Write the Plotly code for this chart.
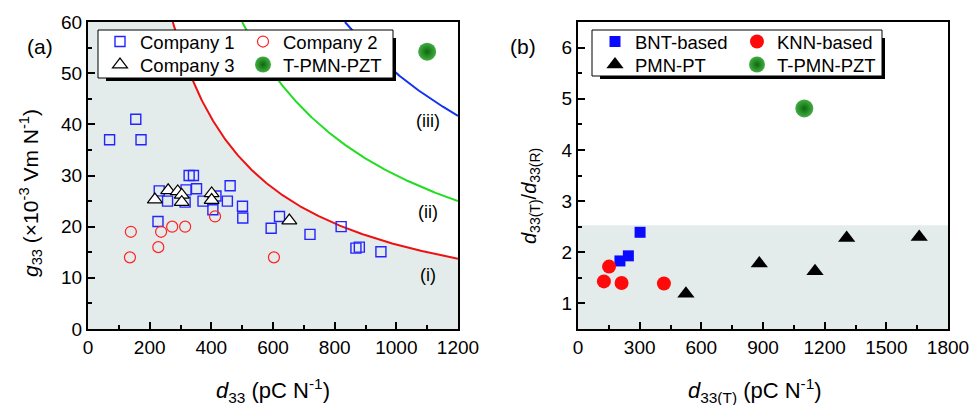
import numpy as np
import plotly.graph_objects as go

W, H = 973, 405
FONT = "Arial, Liberation Sans, sans-serif"

# ---------------- data: panel (a) ----------------
c1_x = [70, 155, 172, 328, 342, 231, 258, 318, 352, 315, 373, 415, 461, 452, 501, 502, 227, 405, 621, 594, 720, 821, 869, 880, 950]
c1_y = [37, 41, 37, 30, 30, 27, 25, 27.2, 27.4, 24.8, 25, 26, 28, 25, 24, 21.7, 21, 23.3, 22, 19.7, 18.5, 20, 15.8, 16, 15.1]
c2_x = [139, 136, 237, 228, 273, 315, 412, 603]
c2_y = [19, 14, 19, 16, 20, 20, 22, 14]
c3_x = [217, 260, 291, 304, 304, 401, 401, 653]
c3_y = [25.3, 27.1, 26.9, 26.2, 24.8, 26.5, 25.2, 21.2]
tp_a_x = [1100]
tp_a_y = [54.2]
fom_levels = [16500, 30000, 50000]      # d33*g33 iso-lines (i), (ii), (iii)
fom_labels = ["(i)", "(ii)", "(iii)"]
fom_label_y = [10.6, 22.9, 40.6]
fom_colors = ["#ee1111", "#22dd22", "#1133ee"]

# ---------------- data: panel (b) ----------------
bnt_x = [204, 245, 302]
bnt_y = [1.83, 1.93, 2.39]
knn_x = [126, 151, 212, 418]
knn_y = [1.43, 1.72, 1.40, 1.39]
pmn_x = [525, 882, 1153, 1307, 1660]
pmn_y = [1.19, 1.78, 1.63, 2.28, 2.30]
tp_b_x = [1101]
tp_b_y = [4.81]
shade_b_top = 2.53

GRAY = "#e4eceb"

fig = go.Figure()

def px2x(px):
    return px / W

def px2y(py):
    return 1 - py / H

# shaded region below curve (i)
xa_max = 1200
ya_max = 60
c = fom_levels[0]
xs = np.linspace(c / ya_max, xa_max, 200)
fill_x = [0, 0] + list(xs) + [xa_max, 0]
fill_y = [0, ya_max] + list(c / xs) + [0, 0]
fig.add_trace(go.Scatter(x=fill_x, y=fill_y, mode="lines", fill="toself",
                         fillcolor=GRAY, line=dict(width=0), showlegend=False,
                         hoverinfo="skip", xaxis="x", yaxis="y"))

for lev, col in zip(fom_levels, fom_colors):
    xx = np.linspace(lev / ya_max, xa_max, 300)
    fig.add_trace(go.Scatter(x=xx, y=lev / xx, mode="lines", line=dict(color=col, width=2),
                             showlegend=False, hoverinfo="skip", xaxis="x", yaxis="y"))

fig.add_trace(go.Scatter(x=c1_x, y=c1_y, mode="markers", name="Company 1",
                         marker=dict(symbol="square-open", size=10, color="#2424ff", line=dict(width=1.4)),
                         xaxis="x", yaxis="y", legend="legend"))
fig.add_trace(go.Scatter(x=c2_x, y=c2_y, mode="markers", name="Company 2",
                         marker=dict(symbol="circle-open", size=11, color="#ff2222", line=dict(width=1.2)),
                         xaxis="x", yaxis="y", legend="legend2"))
fig.add_trace(go.Scatter(x=c3_x, y=c3_y, mode="markers", name="Company 3",
                         marker=dict(symbol="triangle-up", size=13, color="white", line=dict(width=1.2, color="black")),
                         xaxis="x", yaxis="y", legend="legend3"))
sphere = dict(symbol="circle", size=18, color="#44ad44",
              gradient=dict(type="radial", color="#0a6a0a"), line=dict(width=0))
fig.add_trace(go.Scatter(x=tp_a_x, y=tp_a_y, mode="markers", name="T-PMN-PZT",
                         marker=sphere, xaxis="x", yaxis="y", legend="legend4"))

# panel (b)
fig.add_trace(go.Scatter(x=bnt_x, y=bnt_y, mode="markers", name="BNT-based",
                         marker=dict(symbol="square", size=11, color="#0a0aff"),
                         xaxis="x2", yaxis="y2", legend="legend5"))
fig.add_trace(go.Scatter(x=knn_x, y=knn_y, mode="markers", name="KNN-based",
                         marker=dict(symbol="circle", size=14, color="#ff0a0a"),
                         xaxis="x2", yaxis="y2", legend="legend6"))
fig.add_trace(go.Scatter(x=pmn_x, y=pmn_y, mode="markers", name="PMN-PT",
                         marker=dict(symbol="triangle-up", size=15, color="black"),
                         xaxis="x2", yaxis="y2", legend="legend7"))
fig.add_trace(go.Scatter(x=tp_b_x, y=tp_b_y, mode="markers", name="T-PMN-PZT",
                         marker=sphere, xaxis="x2", yaxis="y2", legend="legend8"))

# domains (plot areas in px)
ax_a = (88, 458)
ax_b = (578, 948)
ytop, ybot = 22, 329

common_axis = dict(showline=True, linewidth=2.2, linecolor="black", mirror=True,
                   ticks="inside", ticklen=7, tickwidth=1.6, tickcolor="black",
                   showgrid=False, zeroline=False, automargin=False,
                   tickfont=dict(family=FONT, size=19, color="black"))
minor = lambda d: dict(dtick=d, ticks="inside", ticklen=4, tickwidth=1.6, tickcolor="black", showgrid=False)

fig.update_layout(
    width=W, height=H, margin=dict(l=0, r=0, t=0, b=0, autoexpand=False),
    plot_bgcolor="white", paper_bgcolor="white",
    font=dict(family=FONT, color="black"),
    xaxis=dict(domain=[px2x(ax_a[0]), px2x(ax_a[1])], range=[0, 1200], dtick=200, tick0=0,
               minor=minor(100), anchor="y", **common_axis),
    yaxis=dict(domain=[px2y(ybot), px2y(ytop)], range=[0, 60], dtick=10, tick0=0,
               minor=minor(5), anchor="x", **common_axis),
    xaxis2=dict(domain=[px2x(ax_b[0]), px2x(ax_b[1])], range=[0, 1800], dtick=300, tick0=0,
                minor=minor(150), anchor="y2", **common_axis),
    yaxis2=dict(domain=[px2y(ybot), px2y(ytop)], range=[0.5, 6.5], dtick=1, tick0=0,
                minor=minor(0.5), anchor="x2", **common_axis),
)

# legends: each entry placed separately (two columns per panel)
leg_pos = {
    "legend": (120, 42), "legend2": (263, 42), "legend3": (120, 65), "legend4": (263, 65),
    "legend5": (615, 42), "legend6": (757, 42), "legend7": (615, 65), "legend8": (757, 65),
}
for key, (mx, my) in leg_pos.items():
    fig.update_layout({key: dict(x=px2x(mx - 20), y=px2y(my), xanchor="left", yanchor="middle",
                                 bgcolor="rgba(0,0,0,0)", borderwidth=0,
                                 font=dict(family=FONT, size=18.5, color="black"),
                                 itemwidth=30, tracegroupgap=0)})

# legend frames with drop shadow
shapes = []
for (x0, y0, x1, y1) in [(98, 30, 393, 78), (592, 30, 882, 76)]:
    shapes.append(dict(type="rect", xref="paper", yref="paper", layer="above",
                       x0=px2x(x0 + 8), x1=px2x(x1 + 3), y0=px2y(y1 + 3), y1=px2y(y0 + 8),
                       fillcolor="black", line=dict(width=0)))
    shapes.append(dict(type="rect", xref="paper", yref="paper", layer="above",
                       x0=px2x(x0), x1=px2x(x1), y0=px2y(y1), y1=px2y(y0),
                       fillcolor="white", line=dict(width=1, color="black")))
# shaded region panel (b)
shapes.append(dict(type="rect", xref="x2", yref="y2", layer="below",
                   x0=0, x1=1800, y0=0.5, y1=shade_b_top, fillcolor=GRAY, line=dict(width=0)))
fig.update_layout(shapes=shapes)

# texts
ann = []
for lab, ly in zip(fom_labels, fom_label_y):
    ann.append(dict(x=1103, y=ly, xref="x", yref="y", text=lab, showarrow=False,
                    font=dict(family=FONT, size=18, color="black")))
TF = dict(family=FONT, size=21, color="black")
ann.append(dict(x=px2x(25), y=px2y(33), xref="paper", yref="paper", text="(a)", showarrow=False,
                font=dict(family=FONT, size=21, color="black")))
ann.append(dict(x=px2x(523), y=px2y(33), xref="paper", yref="paper", text="(b)", showarrow=False,
                font=dict(family=FONT, size=21, color="black")))
# axis titles
ann.append(dict(x=px2x(273), y=px2y(390), xref="paper", yref="paper", xanchor="center", yanchor="middle",
                text="<i>d</i><sub>33</sub> (pC N<sup>-1</sup>)", showarrow=False, font=dict(TF, size=22)))
ann.append(dict(x=px2x(755), y=px2y(390), xref="paper", yref="paper", xanchor="center", yanchor="middle",
                text="<i>d</i><sub>33(T)</sub> (pC N<sup>-1</sup>)", showarrow=False, font=dict(TF, size=22)))
ann.append(dict(x=px2x(30), y=px2y(193), xref="paper", yref="paper", xanchor="center", yanchor="middle",
                textangle=-90, text="<i>g</i><sub>33</sub> (×10<sup>-3</sup> Vm N<sup>-1</sup>)",
                showarrow=False, font=TF))
ann.append(dict(x=px2x(530), y=px2y(196), xref="paper", yref="paper", xanchor="center", yanchor="middle",
                textangle=-90, text="<i>d</i><sub>33(T)</sub>/<i>d</i><sub>33(R)</sub>",
                showarrow=False, font=dict(TF, size=20)))
fig.update_layout(annotations=ann)

fig.write_html("out.html")
